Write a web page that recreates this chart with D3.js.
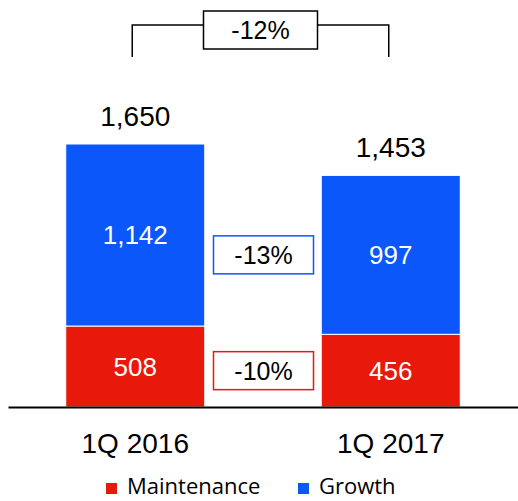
<!DOCTYPE html>
<html>
<head>
<meta charset="utf-8">
<script src="https://cdn.jsdelivr.net/npm/d3@7"></script>
<style>
  body { margin: 0; background: #fff; }
  svg { display: block; }
</style>
</head>
<body>
<svg id="drawing_region"></svg>
<script>
const categories = ['1Q 2016', '1Q 2017'];
const maintenance = [508, 456];
const growth = [1142, 997];
const seriesNames = ['Maintenance', 'Growth'];
const colors = ['#e8190a', '#0b57fa'];

const width = 518, height = 501;
const baseY = 407;

const svg = d3.select('#drawing_region')
    .attr('width', width)
    .attr('height', height)
    .style('font-family', '"Liberation Sans", Arial, sans-serif');

const totals = categories.map((c, i) => maintenance[i] + growth[i]);

const xscale = d3.scaleBand()
    .domain(categories)
    .range([8, 518])
    .paddingInner(0.456)
    .paddingOuter(0.226);

const yscale = d3.scaleLinear()
    .domain([0, d3.max(totals)])
    .range([baseY, 144]);

// stacked data
const stack = d3.stack().keys([0, 1]).value((d, k) => d[k]);
const rows = categories.map((c, i) => ({ 0: maintenance[i], 1: growth[i], cat: c }));
const layers = stack(rows);

const layerG = svg.selectAll('g.layer')
    .data(layers)
    .join('g')
    .attr('class', 'layer')
    .attr('fill', (d, i) => colors[i]);

layerG.selectAll('rect')
    .data(d => d)
    .join('rect')
    .attr('x', d => xscale(d.data.cat))
    .attr('y', d => yscale(d[1]))
    .attr('width', xscale.bandwidth())
    .attr('height', d => yscale(d[0]) - yscale(d[1]))
    .attr('stroke', '#fff')
    .attr('stroke-width', 1);

// value labels inside segments
layerG.selectAll('text')
    .data(d => d)
    .join('text')
    .attr('x', d => xscale(d.data.cat) + xscale.bandwidth() / 2)
    .attr('y', d => (yscale(d[0]) + yscale(d[1])) / 2)
    .attr('dy', '0.36em')
    .attr('text-anchor', 'middle')
    .attr('fill', '#fff')
    .attr('font-size', 26)
    .text(d => d3.format(',')(d[1] - d[0]));

// totals
svg.append('g').selectAll('text')
    .data(categories)
    .join('text')
    .attr('x', c => xscale(c) + xscale.bandwidth() / 2)
    .attr('y', (c, i) => yscale(totals[i]) - 18)
    .attr('text-anchor', 'middle')
    .attr('font-size', 28)
    .attr('fill', '#000')
    .text((c, i) => d3.format(',')(totals[i]));

// axis
const xaxis = d3.axisBottom(xscale).tickSize(0).tickSizeOuter(0).tickPadding(26);
const axisG = svg.append('g')
    .attr('transform', `translate(0, ${baseY})`)
    .call(xaxis);
axisG.select('.domain').attr('stroke', '#000').attr('stroke-width', 2);
axisG.selectAll('text')
    .attr('font-size', 28)
    .attr('font-family', '"Liberation Sans", Arial, sans-serif')
    .attr('fill', '#000');

const pct = (a, b) => d3.format('.0%')(b / a - 1).replace('−', '-');

// change boxes between the bars
const midX = (xscale(categories[0]) + xscale.bandwidth() + xscale(categories[1])) / 2 + 0.5;
const changes = [
    { label: pct(maintenance[0], maintenance[1]), y: (yscale(0) + yscale(maintenance[1])) / 2, color: colors[0] },
    { label: pct(growth[0], growth[1]), y: (yscale(maintenance[1]) + yscale(totals[1])) / 2, color: colors[1] }
];
const boxG = svg.append('g').selectAll('g')
    .data(changes)
    .join('g')
    .attr('transform', d => `translate(${midX}, ${d.y})`);
boxG.append('rect')
    .attr('x', -50).attr('y', -19)
    .attr('width', 100).attr('height', 38)
    .attr('fill', '#fff')
    .attr('stroke', d => d.color)
    .attr('stroke-width', 1.5);
boxG.append('text')
    .attr('text-anchor', 'middle')
    .attr('dy', '0.36em')
    .attr('font-size', 25)
    .text(d => d.label);

// total change bracket
const lx = xscale(categories[0]) + xscale.bandwidth() / 2 - 3;
const rx = xscale(categories[1]) + xscale.bandwidth() / 2 - 2;
svg.append('path')
    .attr('d', `M${lx},57V25H${rx}V57`)
    .attr('fill', 'none')
    .attr('stroke', '#000')
    .attr('stroke-width', 1.5);
const topG = svg.append('g').attr('transform', `translate(${(lx + rx) / 2}, 30)`);
topG.append('rect')
    .attr('x', -57).attr('y', -19)
    .attr('width', 114).attr('height', 38)
    .attr('fill', '#fff')
    .attr('stroke', '#000')
    .attr('stroke-width', 1.5);
topG.append('text')
    .attr('text-anchor', 'middle')
    .attr('dy', '0.36em')
    .attr('font-size', 25)
    .text(pct(totals[0], totals[1]));

// legend
const legendX = [106, 298];
const legend = svg.append('g').selectAll('g')
    .data(seriesNames)
    .join('g')
    .attr('transform', (d, i) => `translate(${legendX[i]}, 483)`);
legend.append('rect')
    .attr('width', 11).attr('height', 11)
    .attr('fill', (d, i) => colors[i]);
legend.append('text')
    .attr('x', 21)
    .attr('y', 11)
    .attr('font-size', 22)
    .attr('font-family', '"Open Sans", sans-serif')
    .attr('fill', '#000')
    .text(d => d);
</script>
</body>
</html>
